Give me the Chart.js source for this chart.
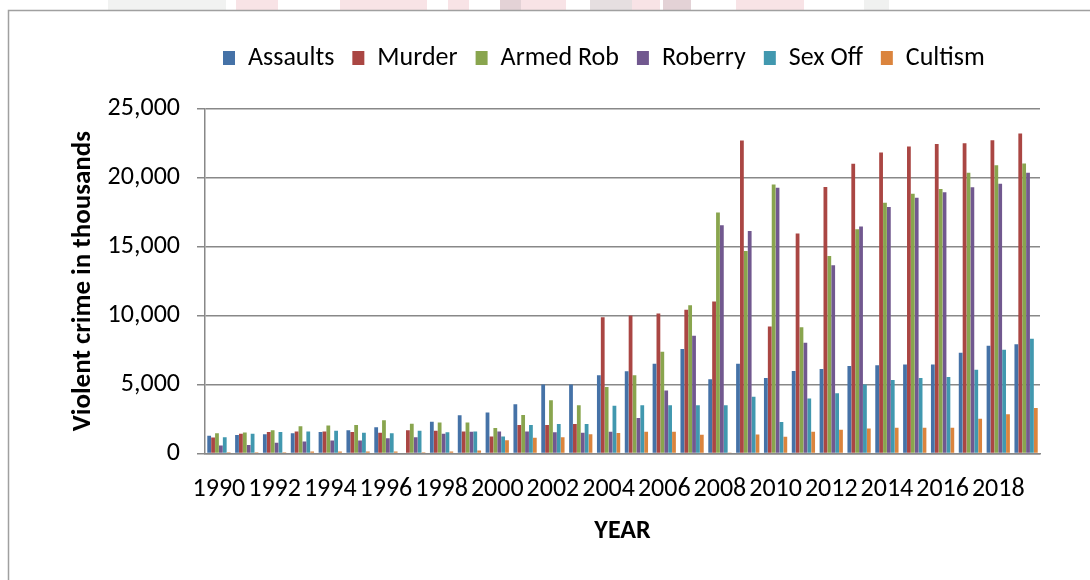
<!DOCTYPE html>
<html>
<head>
<meta charset="utf-8">
<title>Violent crime by year</title>
<script src="https://cdn.jsdelivr.net/npm/chart.js@4.4.0/dist/chart.umd.min.js"></script>
<style>
  html, body { margin: 0; padding: 0; background: #fff; }
  #wrap { width: 1090px; height: 580px; position: relative; }
</style>
</head>
<body>
<div id="wrap"><canvas id="crimeChart"></canvas></div>
<script>
const years = ['1990', '1991', '1992', '1993', '1994', '1995', '1996', '1997', '1998', '1999',
               '2000', '2001', '2002', '2003', '2004', '2005', '2006', '2007', '2008', '2009',
               '2010', '2011', '2012', '2013', '2014', '2015', '2016', '2017', '2018', '2019'];

const assaults = [1290, 1340, 1410, 1480, 1560, 1700, 1900, 0, 2310, 2770,
                  2970, 3580, 5000, 5000, 5670, 5960, 6500, 7570, 5380, 6500,
                  5470, 5990, 6130, 6350, 6400, 6450, 6450, 7300, 7810, 7930];
const murder = [1170, 1440, 1560, 1600, 1600, 1560, 1510, 1700, 1650, 1600,
                1240, 2070, 2070, 2150, 9880, 10000, 10150, 10420, 11020, 22680,
                9200, 15940, 19320, 21000, 21820, 22240, 22430, 22480, 22700, 23190];
const armedRob = [1480, 1530, 1700, 1990, 2040, 2070, 2410, 2170, 2260, 2260,
                  1850, 2800, 3870, 3500, 4820, 5670, 7370, 10750, 17470, 14670,
                  19490, 9150, 14310, 16250, 18180, 18830, 19170, 20340, 20880, 21020];
const roberry = [580, 630, 780, 880, 950, 950, 1120, 1190, 1440, 1580,
                 1600, 1600, 1550, 1510, 1580, 2580, 4580, 8540, 16550, 16130,
                 19250, 8030, 13650, 16450, 17860, 18540, 18930, 19290, 19540, 20340];
const sexOff = [1190, 1440, 1560, 1600, 1650, 1510, 1480, 1650, 1550, 1600,
                1240, 2070, 2150, 2150, 3460, 3500, 3500, 3500, 3500, 4110,
                2290, 3990, 4380, 5010, 5330, 5470, 5550, 6080, 7520, 8320];
const cultism = [100, 100, 100, 150, 150, 150, 150, 100, 150, 220,
                 970, 1140, 1190, 1410, 1500, 1580, 1580, 1360, 50, 1390,
                 1220, 1580, 1730, 1820, 1870, 1870, 1870, 2530, 2850, 3310];

const yTicks = [0, 5000, 10000, 15000, 20000, 25000];

const FONT = "Carlito, Calibri, 'Liberation Sans', Arial, sans-serif";
const GRID = '#888888';

// outer frame of the chart plus the faint print-through at the very top
const framePlugin = {
  id: 'frame',
  beforeDraw(chart) {
    const ctx = chart.ctx;
    ctx.save();
    ctx.fillStyle = '#ffffff';
    ctx.fillRect(0, 0, chart.width, chart.height);

    const faint = [
      ['#f1f2f1', 108, 226], ['#f8e3e6', 236, 278], ['#f8e3e6', 340, 427],
      ['#f8e3e6', 448, 469], ['#e3d2d6', 500, 521], ['#f8e3e6', 521, 566],
      ['#e6dfe0', 590, 632], ['#f8e3e6', 632, 660], ['#e3d2d6', 663, 691],
      ['#f8e3e6', 736, 804], ['#f0f1f0', 864, 889]
    ];
    faint.forEach(([c, x0, x1]) => {
      ctx.fillStyle = c;
      ctx.fillRect(x0, 0, x1 - x0, 10);
    });

    ctx.strokeStyle = '#a0a0a0';
    ctx.lineWidth = 1.5;
    ctx.strokeRect(8.5, 10.5, chart.width + 20, chart.height + 20);
    ctx.restore();
  }
};

const ctx = document.getElementById('crimeChart').getContext('2d');

const series = [
  { label: 'Assaults',  data: assaults, color: '#4572A7' },
  { label: 'Murder',    data: murder,   color: '#AA4643' },
  { label: 'Armed Rob', data: armedRob, color: '#89A54E' },
  { label: 'Roberry',   data: roberry,  color: '#71588F' },
  { label: 'Sex Off',   data: sexOff,   color: '#4198AF' },
  { label: 'Cultism',   data: cultism,  color: '#DB843D' }
];

new Chart(ctx, {
  type: 'bar',
  data: {
    labels: years,
    datasets: series.map(s => ({
      label: s.label,
      data: s.data,
      backgroundColor: s.color,
      borderWidth: 0,
      barPercentage: 0.97,
      categoryPercentage: 0.84
    }))
  },
  options: {
    responsive: true,
    maintainAspectRatio: false,
    animation: false,
    devicePixelRatio: 1,
    layout: {
      padding: { top: 27, left: 60, right: 50, bottom: 27 }
    },
    plugins: {
      tooltip: { enabled: false },
      legend: {
        position: 'top',
        align: 'start',
        fullSize: false,
        labels: {
          boxWidth: 12,
          boxHeight: 14,
          padding: 18,
          color: '#000',
          font: { family: FONT, size: 26 }
        }
      },
      // empty spacer between the legend and the plot
      subtitle: {
        display: true,
        text: '',
        position: 'top',
        fullSize: false,
        weight: 900,
        font: { size: 10, lineHeight: 1 },
        padding: { top: 17.5, bottom: 0 }
      }
    },
    scales: {
      x: {
        // no marks drawn; tickLength only pushes the labels down
        grid: { display: false, drawTicks: true, tickLength: 20 },
        border: { display: true, color: GRID, width: 1.5 },
        ticks: {
          autoSkip: false,
          maxRotation: 0,
          minRotation: 0,
          padding: 0,
          color: '#000',
          font: { family: FONT, size: 26 },
          callback: function(value, index) {
            return index % 2 === 0 ? years[index] : '';
          }
        },
        title: {
          display: true,
          text: 'YEAR',
          color: '#000',
          font: { family: FONT, size: 26, weight: 'bold' },
          padding: { top: 11, bottom: 6 }
        }
      },
      y: {
        min: 0,
        max: 25000,
        afterBuildTicks: scale => {
          scale.ticks = yTicks.map(v => ({ value: v }));
        },
        afterFit: scale => {
          scale.width = 145;
        },
        grid: { color: GRID, lineWidth: 1.5, tickLength: 8 },
        border: { display: true, color: GRID, width: 1.5 },
        ticks: {
          padding: 17,
          color: '#000',
          font: { family: FONT, size: 26 },
          callback: v => v.toLocaleString('en-US')
        },
        title: {
          display: true,
          text: 'Violent crime in thousands',
          color: '#000',
          font: { family: FONT, size: 27, weight: 'bold' },
          padding: { top: 7, bottom: 0 }
        }
      }
    }
  },
  plugins: [framePlugin]
});
</script>
</body>
</html>
